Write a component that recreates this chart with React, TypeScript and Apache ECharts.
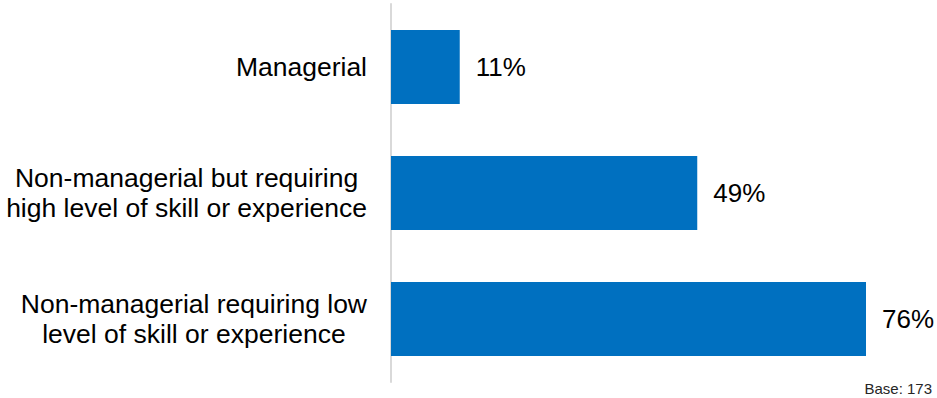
import React, { useEffect, useRef } from "react";
import * as echarts from "echarts";

const categories: string[][] = [
  ["Managerial"],
  ["Non-managerial but requiring", "high level of skill or experience"],
  ["Non-managerial requiring low", "level of skill or experience"],
];
const values: number[] = [11, 49, 76];
const baseNote = "Base: 173";

const FONT = "'Liberation Sans', Arial, Helvetica, sans-serif";

export default function App() {
  const ref = useRef<HTMLDivElement>(null);
  useEffect(() => {
    document.body.style.margin = "0";
    if (!ref.current) return;
    const chart = echarts.init(ref.current, undefined, { renderer: "svg" });
    const catNames = categories.map((c) => c.join("\n"));
    chart.setOption({
      animation: false,
      grid: { left: 391, right: 46, top: 4, bottom: 16, containLabel: false },
      xAxis: {
        type: "value",
        min: 0,
        max: 80,
        show: false,
      },
      yAxis: {
        type: "category",
        inverse: true,
        data: catNames,
        axisLine: { show: true, lineStyle: { color: "#d9d9d9", width: 2 } },
        axisTick: { show: false },
        axisLabel: {
          margin: 24,
          align: "right",
          fontFamily: FONT,
          fontSize: 26.5,
          color: "#000",
          lineHeight: 30,
          formatter: (v: string) =>
            v
              .split("\n")
              .map((l) => `{c|${l}}`)
              .join("\n"),
          rich: {
            c: {
              align: "center",
              fontFamily: FONT,
              fontSize: 26.5,
              lineHeight: 30,
              color: "#000",
            },
          },
        },
      },
      series: [
        {
          type: "bar",
          data: values,
          barWidth: 74,
          itemStyle: { color: "#0070C0" },
          label: {
            show: true,
            position: "right",
            distance: 16,
            formatter: "{c}%",
            fontFamily: FONT,
            fontSize: 26,
            color: "#000",
          },
        },
      ],
      graphic: [
        {
          type: "text",
          right: 5,
          bottom: 2,
          style: {
            text: baseNote,
            fontFamily: FONT,
            fontSize: 15,
            fill: "#262626",
          },
        },
      ],
    });
    return () => chart.dispose();
  }, []);
  return <div ref={ref} style={{ width: 937, height: 398 }} />;
}
